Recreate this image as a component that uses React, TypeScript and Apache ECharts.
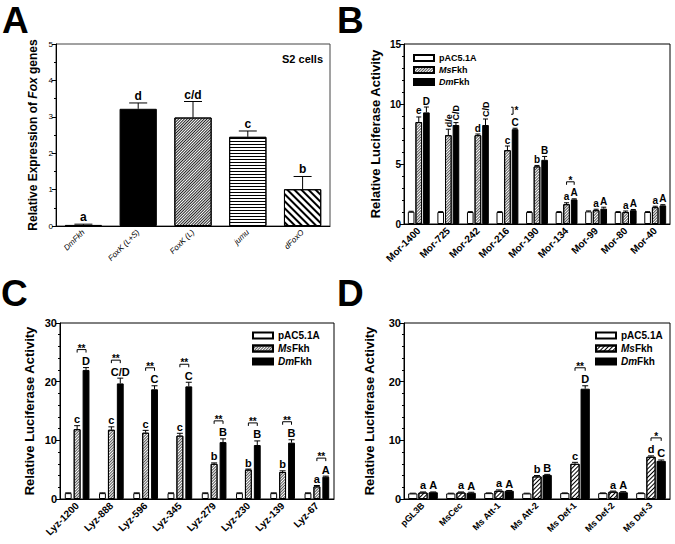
import React, { useEffect, useRef } from 'react';
import * as echarts from 'echarts';

const FONT = 'Arial, "Liberation Sans", Helvetica, sans-serif';
const INK = '#000';

// ---------- Panel A ----------
const aCategories = ['DmFkh', 'FoxK (L+S)', 'FoxK (L)', 'jumu', 'dFoxO'];
const aValues = [0.03, 3.22, 2.98, 2.45, 1.01];
const aErrors = [0.02, 0.16, 0.44, 0.16, 0.35];
const aLetters = ['a', 'd', 'c/d', 'c', 'b'];

// ---------- Panel B ----------
const bCategories = ['Mor-1400', 'Mor-725', 'Mor-242', 'Mor-216', 'Mor-190', 'Mor-134', 'Mor-99', 'Mor-80', 'Mor-40'];
const bPac = [1.02, 1.0, 1.0, 1.0, 1.0, 1.0, 1.05, 1.0, 1.0];
const bPacErr = [0.04, 0.03, 0.03, 0.03, 0.03, 0.03, 0.04, 0.03, 0.03];
const bMs = [8.5, 7.4, 7.4, 6.15, 4.8, 1.65, 1.15, 1.0, 1.4];
const bMsErr = [0.42, 0.5, 0.1, 0.35, 0.08, 0.12, 0.08, 0.08, 0.08];
const bDm = [9.3, 8.25, 8.25, 7.9, 5.35, 2.05, 1.28, 1.15, 1.55];
const bDmErr = [0.45, 0.2, 0.5, 0.08, 0.28, 0.05, 0.12, 0.06, 0.06];
const bMsLetters = ['e', 'd/e', 'd', 'c', 'b', 'a', 'a', 'a', 'a'];
const bDmLetters = ['D', 'C/D', 'C/D', 'C', 'B', 'A', 'A', 'A', 'A'];
const bSignificance = ['', '', '', '*', '', '*', '', '', ''];
const bBracketKind = ['', '', '', 'v', '', 'h', '', '', ''];

// ---------- Panel C ----------
const cCategories = ['Lyz-1200', 'Lyz-888', 'Lyz-596', 'Lyz-345', 'Lyz-279', 'Lyz-230', 'Lyz-139', 'Lyz-67'];
const cPac = [1.0, 1.0, 1.0, 1.0, 1.0, 1.0, 1.0, 1.0];
const cPacErr = [0.05, 0.05, 0.05, 0.05, 0.05, 0.05, 0.05, 0.05];
const cMs = [11.9, 11.8, 11.3, 10.8, 6.0, 5.0, 4.6, 2.15];
const cMsErr = [0.6, 0.5, 0.4, 0.4, 0.15, 0.1, 0.2, 0.15];
const cDm = [22.0, 19.7, 18.7, 19.2, 9.7, 9.2, 9.6, 3.8];
const cDmErr = [0.4, 0.9, 0.6, 0.7, 0.55, 0.7, 0.5, 0.1];
const cMsLetters = ['c', 'c', 'c', 'c', 'b', 'b', 'b', 'a'];
const cDmLetters = ['D', 'C/D', 'C', 'C', 'B', 'B', 'B', 'A'];
const cSignificance = ['**', '**', '**', '**', '**', '**', '**', '**'];
const cBracketKind = ['h', 'h', 'h', 'h', 'h', 'h', 'h', 'h'];

// ---------- Panel D ----------
const dCategories = ['pGL3B', 'MsCec', 'Ms Att-1', 'Ms Att-2', 'Ms Def-1', 'Ms Def-2', 'Ms Def-3'];
const dPac = [0.95, 0.95, 1.0, 0.95, 1.0, 1.0, 1.0];
const dPacErr = [0.04, 0.04, 0.04, 0.04, 0.04, 0.04, 0.04];
const dMs = [1.1, 1.1, 1.4, 3.85, 6.0, 1.25, 7.2];
const dMsErr = [0.1, 0.1, 0.15, 0.15, 0.25, 0.1, 0.15];
const dDm = [1.15, 1.05, 1.4, 4.1, 18.8, 1.15, 6.5];
const dDmErr = [0.05, 0.1, 0.05, 0.1, 0.5, 0.1, 0.15];
const dMsLetters = ['a', 'a', 'a', 'b', 'c', 'a', 'd'];
const dDmLetters = ['A', 'A', 'A', 'B', 'D', 'A', 'C'];
const dSignificance = ['', '', '', '', '**', '', '*'];
const dBracketKind = ['', '', '', '', 'h', '', 'h'];

const legendNames = ['pAC5.1A', 'MsFkh', 'DmFkh'];
const legendNamesD = ['pAC5.1A', 'MsFkh D', 'DmFkh'];

// ---------- styles ----------
const decalDenseGray = { symbol: 'rect', symbolSize: 1, color: '#555', dashArrayX: [1, 0], dashArrayY: [1, 1], rotation: -Math.PI / 4 };
const decalDenseDark = { symbol: 'rect', symbolSize: 1, color: '#222', dashArrayX: [1, 0], dashArrayY: [1, 1], rotation: -Math.PI / 4 };
const decalHoriz = { symbol: 'rect', symbolSize: 1, color: '#000', dashArrayX: [1, 0], dashArrayY: [1, 2], rotation: 0 };
const decalWideBack = { symbol: 'rect', symbolSize: 1, color: '#000', dashArrayX: [1, 0], dashArrayY: [2, 3], rotation: Math.PI / 4 };
const decalD = { symbol: 'rect', symbolSize: 1, color: '#000', dashArrayX: [1, 0], dashArrayY: [1, 2], rotation: -Math.PI / 4 };

const whiteStyle = { color: '#fff', borderColor: INK, borderWidth: 1 };
const blackStyle = { color: '#000', borderColor: INK, borderWidth: 1 };
const msStyle = { color: '#fff', borderColor: INK, borderWidth: 1, decal: decalDenseGray };
const msStyleD = { color: '#fff', borderColor: INK, borderWidth: 1, decal: decalD };
const aStyles = [
  blackStyle,
  blackStyle,
  { color: '#fff', borderColor: INK, borderWidth: 1, decal: decalDenseDark },
  { color: '#fff', borderColor: INK, borderWidth: 1, decal: decalHoriz },
  { color: '#fff', borderColor: INK, borderWidth: 1, decal: decalWideBack },
];

function richStyle(size: number, weight: string, italic: boolean) {
  return { fontSize: size, fontWeight: weight, fontStyle: italic ? 'italic' : 'normal', fontFamily: FONT, fill: INK };
}

type Panel = {
  grid: number;
  nCat: number;
  vals: number[][];
  errs: number[][];
  letters: string[][];
  sig: string[];
  kinds: string[];
  catGap: number;
  barGap: number;
  capW: number;
  letterSize: number;
  rotateSlash: boolean;
  bracketGap: number;
};

// error bars, significance letters and brackets, placed through the axes' scales
function annotationSeries(p: Panel) {
  const n = p.vals.length;
  const data: number[][] = [];
  for (let k = 0; k < n; k++) for (let i = 0; i < p.nCat; i++) data.push([i, p.vals[k][i] + p.errs[k][i]]);
  return {
    type: 'custom',
    name: 'annot' + p.grid,
    xAxisIndex: p.grid,
    yAxisIndex: p.grid,
    data,
    z: 5,
    silent: true,
    renderItem: (params: any, api: any) => {
      const idx = params.dataIndex;
      const k = Math.floor(idx / p.nCat);
      const i = idx % p.nCat;
      const band = api.size([1, 0])[0];
      const total = band * (1 - p.catGap);
      const w = total / (n + (n - 1) * p.barGap);
      const off = (kk: number) => -total / 2 + kk * w * (1 + p.barGap) + w / 2;
      const base = api.coord([i, p.vals[k][i]]);
      const top = api.coord([i, p.vals[k][i] + p.errs[k][i]]);
      const x = base[0] + off(k);
      const children: any[] = [];
      const ls = { stroke: INK, lineWidth: 1 };
      children.push({ type: 'line', shape: { x1: x, y1: base[1], x2: x, y2: top[1] }, style: ls });
      children.push({ type: 'line', shape: { x1: x - p.capW / 2, y1: top[1], x2: x + p.capW / 2, y2: top[1] }, style: ls });
      const letter = p.letters[k][i];
      if (letter) {
        const ts = { text: letter, fill: INK, fontSize: p.letterSize, fontWeight: 'bold', fontFamily: FONT };
        if (p.rotateSlash && letter.indexOf('/') >= 0) {
          children.push({
            type: 'text', x: x + 0.5, y: top[1] - 2, rotation: Math.PI / 2,
            style: { text: '{l|' + letter + '}', rich: { l: richStyle(p.letterSize - 1, 'bold', false) }, align: 'left', verticalAlign: 'middle' },
          });
        } else {
          children.push({ type: 'text', x, y: top[1] - 1, style: { ...ts, align: 'center', verticalAlign: 'bottom' } });
        }
      }
      if (k === n - 1 && p.sig[i]) {
        const msTop = api.coord([i, p.vals[k - 1][i] + p.errs[k - 1][i]])[1];
        const xm = base[0] + off(k - 1);
        const starStyle = { text: p.sig[i], fill: INK, fontSize: 10, fontWeight: 'bold', fontFamily: FONT };
        if (p.kinds[i] === 'v') {
          const yb = top[1] - 14;
          const yt = top[1] - 21;
          const xv = x - 2;
          children.push({ type: 'polyline', shape: { points: [[xv - 2, yt], [xv, yt], [xv, yb], [xv - 2, yb]] }, style: { stroke: INK, fill: null, lineWidth: 1 } });
          children.push({ type: 'text', x: xv + 1.5, y: yb + 1, style: { ...starStyle, align: 'left', verticalAlign: 'bottom' } });
        } else {
          const yb = Math.min(msTop, top[1]) - p.bracketGap;
          children.push({ type: 'polyline', shape: { points: [[xm, yb + 3], [xm, yb], [x, yb], [x, yb + 3]] }, style: { stroke: INK, fill: null, lineWidth: 1 } });
          children.push({ type: 'text', x: (xm + x) / 2, y: yb + 3.5, style: { ...starStyle, align: 'center', verticalAlign: 'bottom' } });
        }
      }
      return { type: 'group', children };
    },
  };
}

function xAxisFor(gridIndex: number, data: string[], label: any) {
  return {
    type: 'category',
    gridIndex,
    data,
    axisLine: { lineStyle: { color: INK, width: 1 } },
    axisTick: { alignWithLabel: true, length: 3, lineStyle: { color: INK } },
    axisLabel: { interval: 0, rotate: 45, margin: 5, color: INK, fontFamily: FONT, hideOverlap: false, ...label },
    splitLine: { show: false },
  };
}

function yAxisFor(gridIndex: number, max: number, interval: number, minorSplit: number, label: any) {
  return {
    type: 'value',
    gridIndex,
    min: 0,
    max,
    interval,
    axisLine: { show: true, lineStyle: { color: INK, width: 1 } },
    axisTick: { show: true, length: 4, lineStyle: { color: INK } },
    minorTick: { show: true, splitNumber: minorSplit, length: 2, lineStyle: { color: INK } },
    splitLine: { show: false },
    axisLabel: { color: INK, fontFamily: FONT, margin: 3, ...label },
  };
}

function groupedBars(grid: number, names: string[], arrays: number[][], styles: any[], catGap: string, barGap: string) {
  return arrays.map((arr, k) => ({
    type: 'bar',
    name: names[k],
    xAxisIndex: grid,
    yAxisIndex: grid,
    data: arr,
    barGap,
    barCategoryGap: catGap,
    itemStyle: styles[k],
    silent: true,
  }));
}

function legendFor(left: number, top: number, data: string[], size: number, lh: number) {
  return {
    orient: 'vertical',
    left,
    top,
    padding: 0,
    itemWidth: 20,
    itemHeight: 6,
    itemGap: 0,
    icon: 'rect',
    selectedMode: false,
    data,
    formatter: (name: string) => {
      if (name.indexOf('Ms') === 0) return '{i|Ms}{t|Fkh}';
      if (name.indexOf('Dm') === 0) return '{i|Dm}{t|Fkh}';
      return '{t|' + name + '}';
    },
    textStyle: {
      lineHeight: lh,
      rich: {
        t: { fontSize: size, fontWeight: 'bold', fontFamily: FONT, color: INK, lineHeight: lh },
        i: { fontSize: size, fontWeight: 'bold', fontStyle: 'italic', fontFamily: FONT, color: INK, lineHeight: lh },
      },
    },
  };
}

function panelLetter(text: string, x: number, y: number) {
  return { type: 'text', left: x, top: y, style: { text, fontSize: 37, fontWeight: 'bold', fontFamily: FONT, fill: INK } };
}

function axisName(text: string, x: number, y: number, size: number) {
  return {
    type: 'text',
    x,
    y,
    rotation: Math.PI / 2,
    style: {
      text,
      align: 'center',
      verticalAlign: 'middle',
      rich: {
        t: richStyle(size, 'bold', false),
        i: richStyle(size, 'bold', true),
      },
    },
  };
}

export default function App() {
  const ref = useRef<HTMLDivElement>(null);
  useEffect(() => {
    if (!ref.current) return;
    const chart = echarts.init(ref.current, null, { renderer: 'svg' });
    const option: any = {
      animation: false,
      backgroundColor: '#fff',
      grid: [
        { left: 56, top: 44, width: 274, height: 182, show: true, borderColor: '#444', borderWidth: 1, backgroundColor: 'transparent' },
        { left: 404, top: 44, width: 266, height: 180, show: true, borderColor: INK, borderWidth: 1, backgroundColor: 'transparent' },
        { left: 60, top: 323, width: 274, height: 176, show: true, borderColor: INK, borderWidth: 1, backgroundColor: 'transparent' },
        { left: 404, top: 323, width: 266, height: 176, show: true, borderColor: INK, borderWidth: 1, backgroundColor: 'transparent' },
      ],
      xAxis: [
        xAxisFor(0, aCategories, { fontSize: 8, fontStyle: 'italic', fontWeight: 'normal' }),
        xAxisFor(1, bCategories, { fontSize: 10, fontWeight: 'bold' }),
        xAxisFor(2, cCategories, { fontSize: 10, fontWeight: 'bold' }),
        xAxisFor(3, dCategories, { fontSize: 9, fontWeight: 'bold' }),
      ],
      yAxis: [
        yAxisFor(0, 5, 1, 2, { fontSize: 8, fontWeight: 'normal' }),
        yAxisFor(1, 15, 5, 5, { fontSize: 10, fontWeight: 'bold' }),
        yAxisFor(2, 30, 10, 5, { fontSize: 11, fontWeight: 'bold' }),
        yAxisFor(3, 30, 10, 5, { fontSize: 11, fontWeight: 'bold' }),
      ],
      legend: [
        legendFor(413, 52, legendNames, 9, 12),
        legendFor(252, 329, legendNames, 10, 13),
        legendFor(595, 329, legendNamesD, 10, 13),
      ],
      series: [
        {
          type: 'bar',
          name: 'Fox genes',
          xAxisIndex: 0,
          yAxisIndex: 0,
          barCategoryGap: '32%',
          silent: true,
          data: aValues.map((v, i) => ({ value: v, itemStyle: aStyles[i] })),
        },
        annotationSeries({ grid: 0, nCat: aCategories.length, vals: [aValues], errs: [aErrors], letters: [aLetters], sig: [], kinds: [], catGap: 0.32, barGap: 0, capW: 18, letterSize: 12, rotateSlash: false, bracketGap: 14 }),
        ...groupedBars(1, legendNames, [bPac, bMs, bDm], [whiteStyle, msStyle, blackStyle], '26%', '15%'),
        annotationSeries({ grid: 1, nCat: bCategories.length, vals: [bPac, bMs, bDm], errs: [bPacErr, bMsErr, bDmErr], letters: [[], bMsLetters, bDmLetters], sig: bSignificance, kinds: bBracketKind, catGap: 0.26, barGap: 0.15, capW: 5, letterSize: 10, rotateSlash: true, bracketGap: 17 }),
        ...groupedBars(2, legendNames, [cPac, cMs, cDm], [whiteStyle, msStyle, blackStyle], '28%', '30%'),
        annotationSeries({ grid: 2, nCat: cCategories.length, vals: [cPac, cMs, cDm], errs: [cPacErr, cMsErr, cDmErr], letters: [[], cMsLetters, cDmLetters], sig: cSignificance, kinds: cBracketKind, catGap: 0.28, barGap: 0.3, capW: 6, letterSize: 11, rotateSlash: false, bracketGap: 18 }),
        ...groupedBars(3, legendNamesD, [dPac, dMs, dDm], [whiteStyle, msStyleD, blackStyle], '22%', '10%'),
        annotationSeries({ grid: 3, nCat: dCategories.length, vals: [dPac, dMs, dDm], errs: [dPacErr, dMsErr, dDmErr], letters: [[], dMsLetters, dDmLetters], sig: dSignificance, kinds: dBracketKind, catGap: 0.22, barGap: 0.1, capW: 6, letterSize: 11, rotateSlash: false, bracketGap: 18 }),
      ],
      graphic: {
        elements: [
          panelLetter('A', 2, 2),
          panelLetter('B', 337, 2),
          panelLetter('C', 1, 275),
          panelLetter('D', 337, 275),
          { type: 'text', right: 675 - 323, top: 53, style: { text: 'S2 cells', fontSize: 11, fontWeight: 'bold', fontFamily: FONT, fill: INK } },
          axisName('{t|Relative Expression of }{i|Fox}{t| genes}', 33, 135, 12),
          axisName('{t|Relative Luciferase Activity}', 375, 134, 13),
          axisName('{t|Relative Luciferase Activity}', 29, 411, 13),
          axisName('{t|Relative Luciferase Activity}', 369, 411, 13),
        ],
      },
    };
    chart.setOption(option);
    return () => chart.dispose();
  }, []);
  return <div ref={ref} style={{ position: 'fixed', left: 0, top: 0, width: 675, height: 544, background: '#fff' }} />;
}
